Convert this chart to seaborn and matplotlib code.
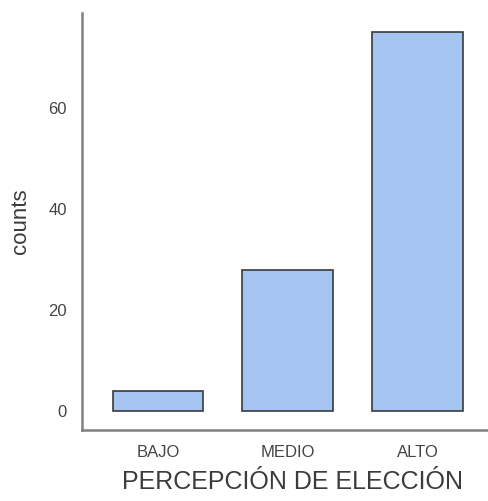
import matplotlib
matplotlib.use("Agg")
import matplotlib.pyplot as plt
import seaborn as sns
import pandas as pd

# datos
categorias = ["BAJO", "MEDIO", "ALTO"]
conteos = [4, 28, 75]

df = pd.DataFrame({"percepcion": categorias, "counts": conteos})

sns.set_theme(style="white")
plt.rcParams["font.family"] = ["Liberation Sans", "DejaVu Sans"]

fig = plt.figure(figsize=(4.89, 5.01), dpi=100)
ax = fig.add_axes([82 / 489, 71 / 501, (489 - 82) / 489, (430 - 13) / 501])

sns.barplot(data=df, x="percepcion", y="counts", order=categorias,
            color="#a5c4f2", saturation=1, width=0.7,
            edgecolor="#3a3a3a", linewidth=1.2, ax=ax)

ax.set_xlim(-0.585, 2.55)
ax.set_ylim(-3.75, 78.75)
ax.set_yticks([0, 20, 40, 60])

ax.set_xlabel("PERCEPCIÓN DE ELECCIÓN", fontsize=18, color="#3c3c3c", labelpad=6)
ax.set_ylabel("counts", fontsize=16, color="#3c3c3c", labelpad=12)
ax.xaxis.set_label_coords(0.516, -0.095)

ax.tick_params(axis="both", labelsize=12, labelcolor="#444444", colors="#444444",
               length=4, width=1.5, pad=7)

sns.despine(ax=ax)
for side in ["left", "bottom"]:
    ax.spines[side].set_color("#808080")
    ax.spines[side].set_linewidth(1.8)

fig.savefig("out.png", dpi=100)
